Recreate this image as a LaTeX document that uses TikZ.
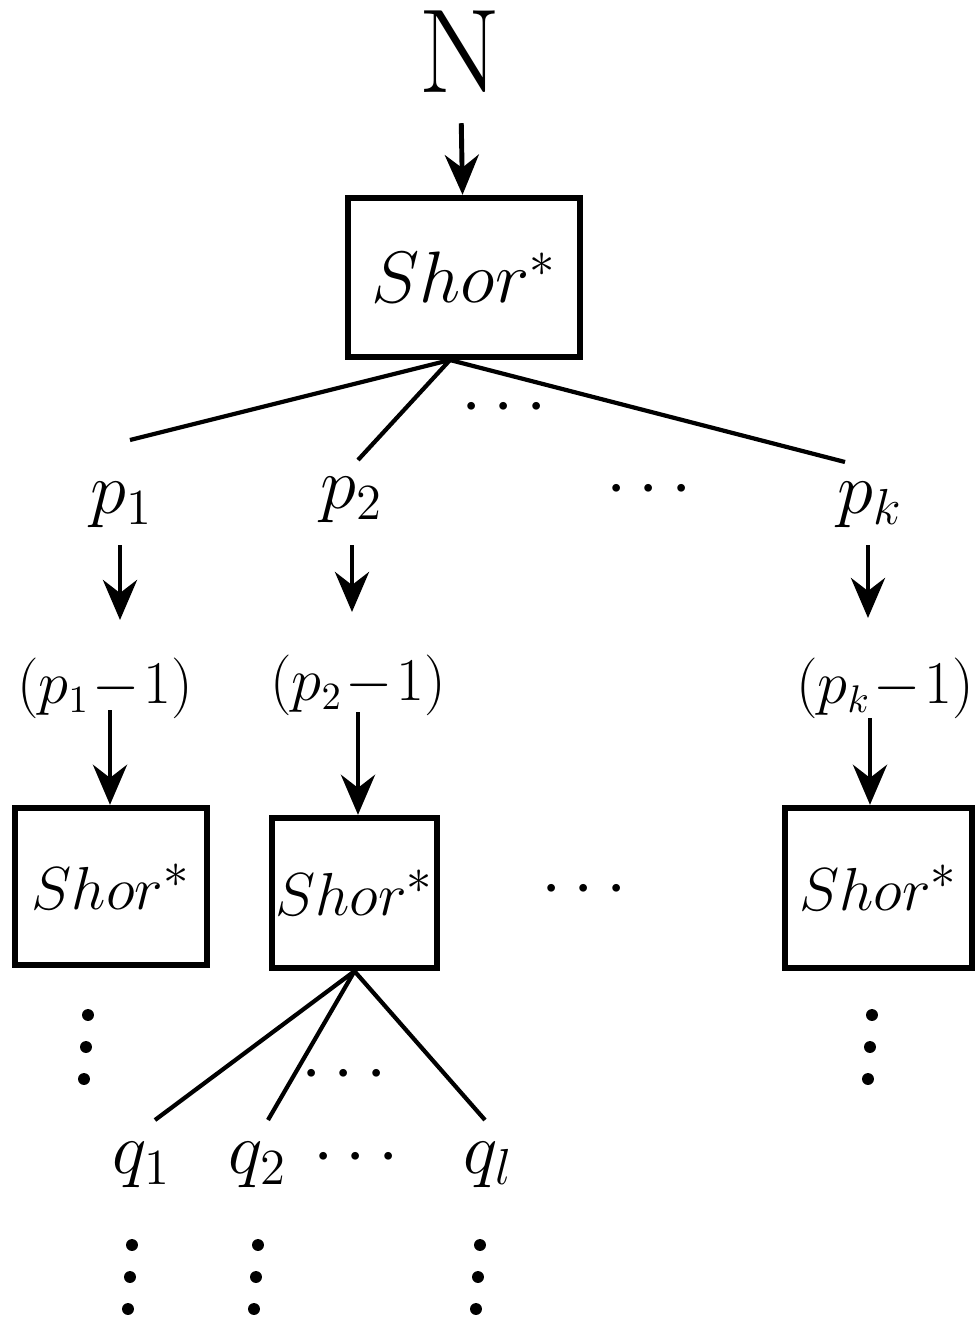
\documentclass[tikz,border=0pt]{standalone}
\usepackage{amsmath,amssymb}
\usetikzlibrary{arrows.meta,positioning}

\begin{document}
\begin{tikzpicture}[
  shorbox/.style={draw, line width=1.8pt, inner sep=0pt, font=\fontsize{19}{23}\selectfont},
  lbl/.style={font=\fontsize{21}{25}\selectfont, inner sep=1pt},
  ordlbl/.style={font=\fontsize{16}{20}\selectfont, inner sep=1pt},
  arr/.style={-{Stealth[length=4mm,width=3.4mm]}, line width=1.4pt},
  branch/.style={line width=1.2pt},
  dot/.style={fill, circle, inner sep=1.2pt}
]
  \useasboundingbox (0,0) rectangle (9.75,-13.24);

  % Input and top call
  \node[font=\fontsize{34}{40}\selectfont] (n) at (4.6,-0.52) {N};
  \node[shorbox, font=\fontsize{22}{26}\selectfont, minimum width=2.32cm, minimum height=1.59cm] (top) at (4.64,-2.775) {$Shor^{*}$};
  \draw[arr] (n) -- (top) [shorten <=0.18cm];

  % Prime factors
  \node[lbl] (p1) at (1.22,-5.05) {$p_1$};
  \node[lbl] (p2) at (3.52,-5.0) {$p_2$};
  \node[lbl] (pd) at (6.55,-4.9) {$\cdots$};
  \node[lbl] (pk) at (8.7,-5.05) {$p_k$};
  \coordinate (e1) at (1.3,-4.4);
  \coordinate (e2) at (3.58,-4.6);
  \coordinate (ek) at (8.45,-4.62);
  \draw[branch] (4.5,-3.6) -- (e1);
  \draw[branch] (4.5,-3.6) -- (e2);
  \draw[branch] (4.5,-3.6) -- (ek);
  \node[lbl] (td) at (5.1,-4.08) {$\cdots$};

  % Orders p-1
  \node[ordlbl] (p1m) at (1.05,-6.88) {$(p_1\!-\!1)$};
  \node[ordlbl] (p2m) at (3.58,-6.85) {$(p_2\!-\!1)$};
  \node[ordlbl] (pkm) at (8.85,-6.88) {$(p_k\!-\!1)$};
  \draw[arr] (1.2,-5.45) -- (1.2,-6.2);
  \draw[arr] (3.52,-5.45) -- (3.52,-6.12);
  \draw[arr] (8.68,-5.45) -- (8.68,-6.18);

  % Recursive calls
  \node[shorbox, minimum width=1.92cm, minimum height=1.57cm] (b1) at (1.11,-8.865) {$Shor^{*}$};
  \node[shorbox, minimum width=1.65cm, minimum height=1.5cm] (b2) at (3.545,-8.93) {$Shor^{*}$};
  \node[shorbox, minimum width=1.87cm, minimum height=1.6cm] (bk) at (8.785,-8.88) {$Shor^{*}$};
  \node[lbl] (bd) at (5.9,-8.9) {$\cdots$};
  \draw[arr] (1.1,-7.1) -- (b1.north -| 1.1,0);
  \draw[arr] (3.58,-7.12) -- (b2.north -| 3.58,0);
  \draw[arr] (8.7,-7.18) -- (bk.north -| 8.7,0);

  % Factors of p_2-1
  \node[lbl] (q1) at (1.42,-11.65) {$q_1$};
  \node[lbl] (q2) at (2.58,-11.65) {$q_2$};
  \node[lbl] (qd) at (3.62,-11.58) {$\cdots$};
  \node[lbl] (ql) at (4.88,-11.65) {$q_l$};
  \coordinate (f1) at (1.55,-11.2);
  \coordinate (f2) at (2.68,-11.2);
  \coordinate (fl) at (4.85,-11.2);
  \draw[branch] (b2.south) -- (f1);
  \draw[branch] (b2.south) -- (f2);
  \draw[branch] (b2.south) -- (fl);
  \node[lbl] (bd2) at (3.5,-10.75) {$\cdots$};

  % Continuation dots
  \foreach \x/\y in {0.88/-10.15, 8.72/-10.15, 1.32/-12.45, 2.58/-12.45, 4.8/-12.45} {
    \node[dot] at (\x,\y) {};
    \node[dot] at (\x-0.02,\y-0.32) {};
    \node[dot] at (\x-0.04,\y-0.64) {};
  }
\end{tikzpicture}
\end{document}
